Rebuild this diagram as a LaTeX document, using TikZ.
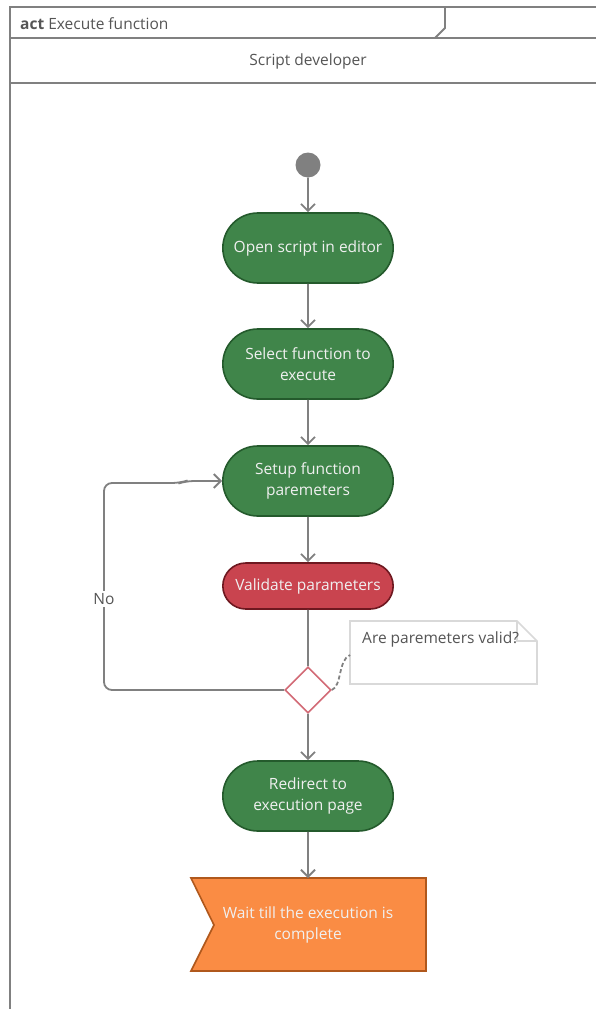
\documentclass[tikz,border=0pt]{standalone}
\usepackage{fontspec}
\setmainfont{Open Sans}
\usetikzlibrary{arrows.meta,shapes.misc,shapes.geometric}
\definecolor{frameGray}{HTML}{808080}
\definecolor{textGray}{HTML}{555555}
\definecolor{actGreen}{HTML}{40854A}
\definecolor{actGreenDark}{HTML}{245A2C}
\definecolor{actRed}{HTML}{C9444F}
\definecolor{actRedDark}{HTML}{6E1820}
\definecolor{decRed}{HTML}{D26A76}
\definecolor{noteGray}{HTML}{D9D9D9}
\definecolor{sigOrange}{HTML}{FA8C44}
\definecolor{sigOrangeDark}{HTML}{B0581C}
\begin{document}
\begin{tikzpicture}[x=1pt,y=-1pt,
  frame/.style={draw=frameGray,line width=1.8pt},
  flow/.style={draw=frameGray,line width=1.8pt,-{Straight Barb[length=7pt,width=14pt,line width=1.8pt]}},
  actbox/.style={rounded rectangle,draw=actGreenDark,line width=1.6pt,fill=actGreen,
    minimum width=177pt,minimum height=70pt,text=white!94!black,align=center,
    font=\fontsize{15.5}{21.5}\selectfont},
  redbox/.style={actbox,draw=actRedDark,fill=actRed,minimum height=46pt},
  txt/.style={font=\fontsize{15.5}{21.5}\selectfont,text=textGray}]
\useasboundingbox (0,0) rectangle (596,1009);
% frame and partition header
\draw[frame] (10,1009) -- (10,7) -- (598,7);
\draw[frame] (445,7) -- (445,28) -- (435,38);
\draw[frame] (10,38) -- (598,38);
\draw[frame] (10,83) -- (598,83);
\node[txt,anchor=west,inner sep=0pt] (title) at (20,24) {\textbf{act}\ Execute function};
\node[txt] (lane) at (308,61) {Script developer};
% nodes
\node[circle,fill=frameGray,minimum size=25pt,inner sep=0pt] (start) at (308,165) {};
\node[actbox] (open) at (308,248) {Open script in editor};
\node[actbox] (select) at (308,364) {Select function to\\execute};
\node[actbox] (setup) at (308,481) {Setup function\\paremeters};
\node[redbox] (valid) at (308,586) {Validate parameters};
\node[diamond,draw=decRed,line width=1.6pt,fill=white,minimum size=46pt,inner sep=0pt] (dec) at (308,690) {};
\node[actbox] (redir) at (308,796) {Redirect to\\execution page};
% note
\draw[noteGray,line width=1.6pt,fill=white] (350,621) -- (517,621) -- (537,641) -- (537,684) -- (350,684) -- cycle;
\draw[noteGray,line width=1.6pt] (517,621) -- (517,641) -- (537,641);
\node[txt,anchor=north west,inner sep=0pt] (note) at (362,632) {Are paremeters valid?};
% signal
\coordinate (sigA) at (191,878);
\coordinate (sigB) at (426,878);
\coordinate (sigC) at (426,971);
\coordinate (sigD) at (191,971);
\coordinate (sigE) at (214,925);
\draw[draw=sigOrangeDark,line width=1.6pt,fill=sigOrange] (sigA) -- (sigB) -- (sigC) -- (sigD) -- (sigE) -- cycle;
\node[align=center,text=white!94!black,font=\fontsize{15.5}{21.5}\selectfont] (wait) at (308,925) {Wait till the execution is\\complete};
% connectors
\draw[flow] (start) -- (open);
\draw[flow] (open) -- (select);
\draw[flow] (select) -- (setup);
\draw[flow] (setup) -- (valid);
\draw[frame] (valid) -- (dec);
\draw[flow] (dec) -- (redir);
\draw[flow] (redir) -- (308,878);
\draw[flow,rounded corners=8pt] (dec.west) -- (104,690) -- (104,483) -- (180,483) -- (186,481) -- (setup.west);
\node[txt,fill=white,inner sep=2pt] (no) at (104,599) {No};
\draw[frameGray,line width=1.8pt,dash pattern=on 4pt off 2.5pt] (dec.east) .. controls (342,686) and (338,660) .. (350,655);
\end{tikzpicture}
\end{document}
